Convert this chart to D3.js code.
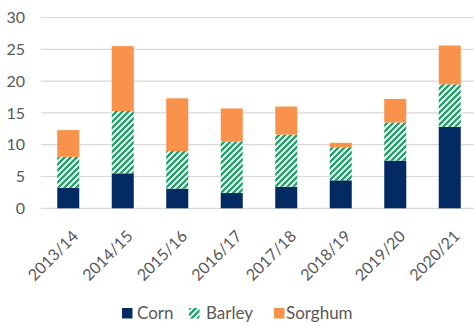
<!DOCTYPE html>
<html><head><meta charset="utf-8">
<script src="https://cdn.jsdelivr.net/npm/d3@7"></script>
<style>body{margin:0;background:#fff}svg{display:block}</style>
</head><body>
<script>
const categories = ["2013/14","2014/15","2015/16","2016/17","2017/18","2018/19","2019/20","2020/21"];
const corn    = [3.2, 5.5, 3.1, 2.4, 3.4, 4.4, 7.5, 12.8];
const barley  = [4.9, 9.8, 5.9, 8.1, 8.2, 5.2, 6.0, 6.7];
const sorghum = [4.2, 10.2, 8.3, 5.2, 4.4, 0.7, 3.7, 6.1];
const seriesNames = ["Corn","Barley","Sorghum"];
const yTicks = [0,5,10,15,20,25,30];

const W = 474, H = 326;
const font = "Lato, 'Open Sans', sans-serif";
const svg = d3.select("body").append("svg").attr("width", W).attr("height", H);
const defs = svg.append("defs");
const pat = defs.append("pattern").attr("id","hatch").attr("patternUnits","userSpaceOnUse")
  .attr("width",6).attr("height",6);
pat.append("rect").attr("width",6).attr("height",6).attr("fill","#fff");
pat.append("path").attr("d","M-1,1 l2,-2 M0,6 l6,-6 M5,7 l2,-2")
  .attr("stroke","#22a06b").attr("stroke-width",2.4);

const colors = {Corn:"#042a63", Barley:"url(#hatch)", Sorghum:"#f9934b"};

const x = d3.scaleBand().domain(categories).range([41, 477]).paddingInner(0.596).paddingOuter(0.298);
const y = d3.scaleLinear().domain([0, 30]).range([208.3, 17.5]);

// gridlines
svg.append("g").selectAll("line").data(yTicks).join("line")
  .attr("x1", 41).attr("x2", 474).attr("y1", d => y(d)).attr("y2", d => y(d))
  .attr("stroke", "#d9d9d9").attr("stroke-width", 1.2);

// y labels
const yAxis = d3.axisLeft(y).tickValues(yTicks).tickSize(0).tickPadding(0);
const gy = svg.append("g").attr("transform","translate(25,0)").call(yAxis);
gy.select(".domain").remove();
gy.selectAll("text").attr("font-family", font).attr("font-size", 16).attr("fill","#595959");

// stacked data
const table = categories.map((c,i) => ({cat:c, Corn:corn[i], Barley:barley[i], Sorghum:sorghum[i]}));
const stack = d3.stack().keys(seriesNames)(table);
svg.append("g").selectAll("g").data(stack).join("g")
  .attr("fill", d => colors[d.key])
  .selectAll("rect").data(d => d).join("rect")
  .attr("x", d => x(d.data.cat)).attr("width", x.bandwidth())
  .attr("y", d => y(d[1])).attr("height", d => y(d[0]) - y(d[1]));

// x labels
const xAxis = d3.axisBottom(x).tickSize(0).tickPadding(0);
const gx = svg.append("g").attr("transform","translate(0,208.3)").call(xAxis);
gx.select(".domain").remove();
gx.selectAll("text").attr("font-family", font).attr("font-size", 16).attr("fill","#595959")
  .attr("text-anchor","end").attr("dy",null).attr("y",0)
  .attr("transform","translate(11,29) rotate(-45)");

// legend
const legendItems = [
  {name:"Corn", x:122, tx:137},
  {name:"Barley", x:189, tx:206},
  {name:"Sorghum", x:274, tx:286}
];
const lg = svg.append("g");
lg.selectAll("rect").data(legendItems).join("rect")
  .attr("x", d => d.x).attr("y", 308).attr("width", 10.5).attr("height", 10.5)
  .attr("fill", d => colors[d.name]);
lg.selectAll("text").data(legendItems).join("text")
  .attr("x", d => d.tx).attr("y", 319).text(d => d.name)
  .attr("font-family", font).attr("font-size", 17).attr("fill","#595959");
</script>
</body></html>
